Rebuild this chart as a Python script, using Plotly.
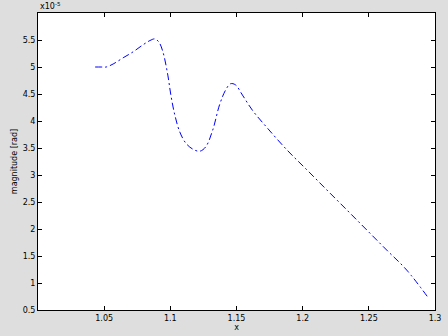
import plotly.graph_objects as go

# data (x, y in units of 1e-5)
x_vals = [1.0432, 1.0477, 1.0515, 1.0568, 1.0643, 1.0718, 1.0793, 1.0846, 1.0883, 1.0914,
          1.0944, 1.0981, 1.1004, 1.1034, 1.1071, 1.1117, 1.1169, 1.1222, 1.1267, 1.1320,
          1.1372, 1.1417, 1.1455, 1.1492, 1.1545, 1.1620, 1.1733, 1.1883, 1.2034, 1.2184,
          1.2335, 1.2485, 1.2635, 1.2786, 1.2951]
y_vals = [5.00, 5.00, 5.00, 5.056, 5.17, 5.28, 5.41, 5.49, 5.52, 5.46,
          5.28, 4.85, 4.48, 4.11, 3.80, 3.59, 3.48, 3.44, 3.52, 3.83,
          4.30, 4.57, 4.69, 4.67, 4.48, 4.20, 3.87, 3.46, 3.09, 2.72,
          2.35, 1.98, 1.61, 1.24, 0.72]
x_ticks = [1.05, 1.1, 1.15, 1.2, 1.25, 1.3]
x_tick_labels = ["1.05", "1.1", "1.15", "1.2", "1.25", "1.3"]
y_ticks = [0.5, 1, 1.5, 2, 2.5, 3, 3.5, 4, 4.5, 5, 5.5]
y_tick_labels = ["0.5", "1", "1.5", "2", "2.5", "3", "3.5", "4", "4.5", "5", "5.5"]

fig = go.Figure()
fig.add_trace(go.Scatter(x=x_vals, y=y_vals, mode="lines",
                         line=dict(color="rgb(0,0,255)", width=1, dash="7px,3px,2px,3px",
                                   shape="spline")))

axis_common = dict(showline=True, linecolor="black", linewidth=1, mirror="ticks",
                   ticks="inside", ticklen=4, tickcolor="black", showgrid=False,
                   zeroline=False, automargin=False,
                   tickfont=dict(family="DejaVu Sans", size=8, color="black"))

fig.update_xaxes(range=[1.0, 1.3], tickvals=x_ticks, ticktext=x_tick_labels,
                 title=dict(text="x", font=dict(family="DejaVu Sans", size=8, color="black"),
                            standoff=1), **axis_common)
fig.update_yaxes(range=[0.5, 6.0], tickvals=y_ticks, ticktext=y_tick_labels,
                 title=dict(text="magnitude [rad]", font=dict(family="DejaVu Sans", size=8, color="black"),
                            standoff=3), **axis_common)

fig.add_annotation(text="x10<sup>-5</sup>", xref="paper", yref="paper", x=0, y=1.0,
                   xanchor="left", yanchor="bottom", showarrow=False,
                   font=dict(family="DejaVu Sans", size=8, color="black"))

fig.update_layout(width=448, height=336, margin=dict(l=38, r=13, t=13, b=26),
                  paper_bgcolor="#dedede", plot_bgcolor="white", showlegend=False)

fig.write_html("out.html", config={"displayModeBar": False},
               post_script="document.body.style.margin='0';document.body.style.overflow='hidden';"
                           "document.body.style.background='#dedede';")
